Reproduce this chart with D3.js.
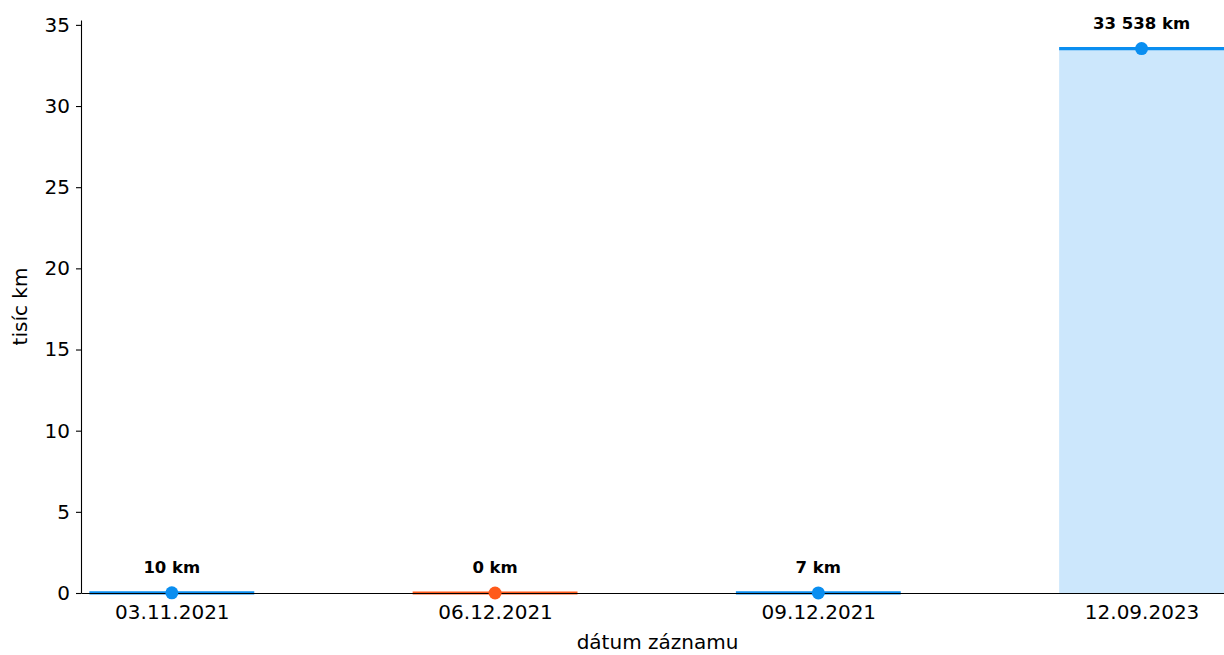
<!DOCTYPE html>
<html>
<head>
<meta charset="utf-8">
<script src="https://cdn.jsdelivr.net/npm/d3@7"></script>
<style>
  body { margin: 0; background: #fff; }
  svg { display: block; font-family: "DejaVu Sans", sans-serif; }
</style>
</head>
<body>
<div id="chart"></div>
<script>
// data
const dates = ["03.11.2021", "06.12.2021", "09.12.2021", "12.09.2023"];
const valuesKm = [10, 0, 7, 33538];
const flagged = [false, true, false, false];
const yTicks = [0, 5, 10, 15, 20, 25, 30, 35];

const W = 1224, H = 655;
const margin = {top: 20, right: 0, bottom: 62, left: 81};

const svg = d3.select("#chart")
  .append("svg")
    .attr("width", W)
    .attr("height", H);

// x is a linear scale over the category index (matplotlib-like limits)
const x = d3.scaleLinear()
  .domain([-0.281, 3.255])
  .range([margin.left, W - margin.right]);

const y = d3.scaleLinear()
  .domain([0, 35.3])
  .range([H - margin.bottom, margin.top]);

const barHalf = 0.255;
const blue = "#0a8ef0", orange = "#ff5a1a";
const fillBlue = "#cce7fc", fillOrange = "#ffdccc";

const data = dates.map((d, i) => ({date: d, km: valuesKm[i], v: valuesKm[i] / 1000, flag: flagged[i], i}));

const plot = svg.append("g");
svg.append("clipPath").attr("id", "clip")
  .append("rect")
    .attr("x", margin.left).attr("y", 0)
    .attr("width", W - margin.left).attr("height", H);
plot.attr("clip-path", "url(#clip)");

// bars
plot.selectAll("rect.bar")
  .data(data)
  .join("rect")
    .attr("class", "bar")
    .attr("x", d => x(d.i - barHalf))
    .attr("width", d => x(d.i + barHalf) - x(d.i - barHalf))
    .attr("y", d => y(d.v))
    .attr("height", d => y(0) - y(d.v))
    .attr("fill", d => d.flag ? fillOrange : fillBlue);

// top lines
plot.selectAll("line.top")
  .data(data)
  .join("line")
    .attr("class", "top")
    .attr("x1", d => x(d.i - barHalf))
    .attr("x2", d => x(d.i + barHalf))
    .attr("y1", d => y(d.v))
    .attr("y2", d => y(d.v))
    .attr("stroke", d => d.flag ? orange : blue)
    .attr("stroke-width", 3.2);

// axes
const yAxis = svg.append("g")
  .attr("transform", `translate(${margin.left},0)`)
  .call(d3.axisLeft(y).tickValues(yTicks).tickSize(5).tickPadding(6).tickSizeOuter(0));
yAxis.select(".domain").attr("stroke", "#000").attr("stroke-width", 1.1);
yAxis.selectAll(".tick line").attr("stroke", "#000").attr("stroke-width", 1.1);
yAxis.selectAll("text")
  .attr("fill", "#000")
  .style("font-size", "20px")
  .style("font-family", "DejaVu Sans, sans-serif");

const xAxis = svg.append("g")
  .attr("transform", `translate(0,${y(0)})`)
  .call(d3.axisBottom(x).tickValues(d3.range(dates.length)).tickFormat(i => dates[i]).tickSize(0).tickPadding(12).tickSizeOuter(0));
xAxis.select(".domain").attr("stroke", "#000").attr("stroke-width", 1.1);
xAxis.selectAll("text")
  .attr("fill", "#000")
  .style("font-size", "20px")
  .style("font-family", "DejaVu Sans, sans-serif");

// dots
svg.append("g").attr("clip-path", "url(#clip)")
  .selectAll("circle")
  .data(data)
  .join("circle")
    .attr("cx", d => x(d.i))
    .attr("cy", d => y(d.v))
    .attr("r", 6.5)
    .attr("fill", d => d.flag ? orange : blue);

// value labels
const fmt = n => d3.format(",")(n).replace(/,/g, " ") + " km";
svg.append("g")
  .selectAll("text")
  .data(data)
  .join("text")
    .attr("x", d => x(d.i))
    .attr("y", d => y(d.v) - 20)
    .attr("text-anchor", "middle")
    .style("font-size", "16.5px")
    .style("font-weight", "bold")
    .attr("fill", "#000")
    .text(d => fmt(d.km));

// axis titles
svg.append("text")
  .attr("x", (margin.left + W) / 2 + 5)
  .attr("y", 649)
  .attr("text-anchor", "middle")
  .style("font-size", "20px")
  .text("dátum záznamu");

svg.append("text")
  .attr("transform", `translate(27,${(margin.top + y(0)) / 2}) rotate(-90)`)
  .attr("text-anchor", "middle")
  .style("font-size", "20px")
  .text("tisíc km");
</script>
</body>
</html>
